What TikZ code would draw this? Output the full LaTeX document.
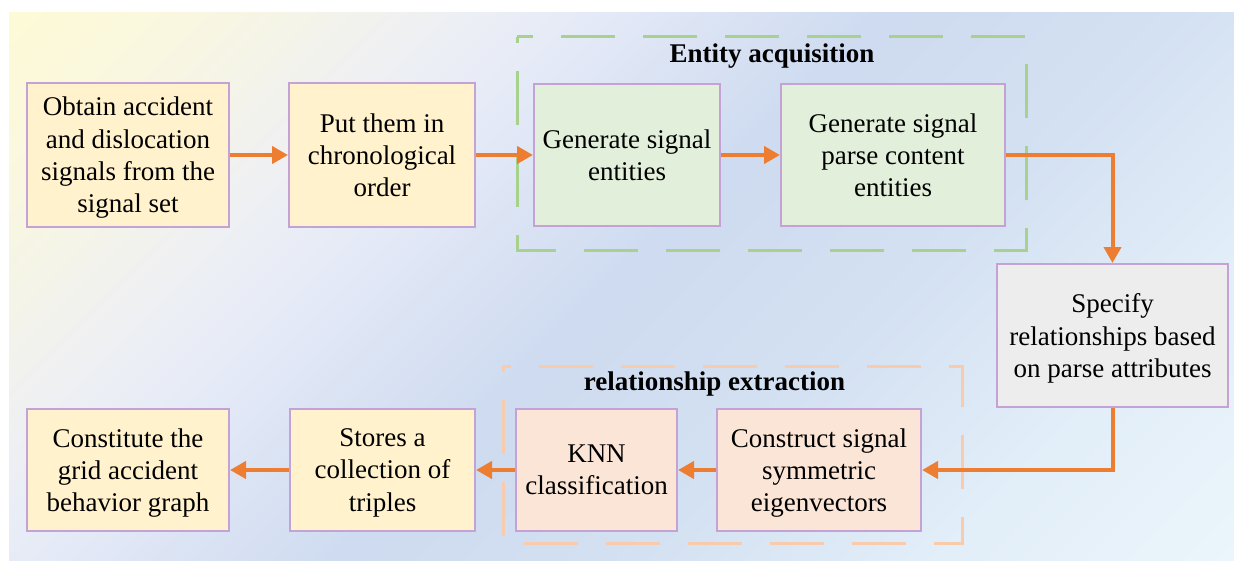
\documentclass[tikz,border=0pt]{standalone}
\usepackage{fontspec}
\setmainfont{Liberation Serif}
\usetikzlibrary{arrows.meta}
\definecolor{arr}{RGB}{237,125,49}
\definecolor{bdr}{RGB}{196,162,214}
\definecolor{yel}{RGB}{255,242,204}
\definecolor{grn}{RGB}{226,239,218}
\definecolor{pch}{RGB}{251,229,214}
\definecolor{gry}{RGB}{237,237,237}
\definecolor{gdash}{RGB}{169,209,142}
\definecolor{odash}{RGB}{248,203,173}
\definecolor{bgA}{RGB}{253,250,214}
\definecolor{bgB}{RGB}{249,247,224}
\definecolor{bgC}{RGB}{238,240,243}
\definecolor{bgD}{RGB}{229,234,247}
\definecolor{bgE}{RGB}{206,219,240}
\definecolor{bgF}{RGB}{212,225,242}
\definecolor{bgG}{RGB}{226,238,248}
\definecolor{bgH}{RGB}{235,245,251}
\pgfdeclarehorizontalshading{bgshade}{100bp}{color(0bp)=(bgA); color(24.4bp)=(bgA); color(29.6bp)=(bgB); color(36.8bp)=(bgC); color(41.1bp)=(bgD); color(49.8bp)=(bgE); color(58.4bp)=(bgF); color(67.1bp)=(bgG); color(75.6bp)=(bgH); color(100bp)=(bgH)}
\begin{document}
\begin{tikzpicture}[x=0.75pt,y=-0.75pt,
  box/.style={draw=bdr,line width=1.5pt,align=center,inner sep=0pt,text depth=0pt,
    font=\fontsize{20.25}{24.2}\selectfont},
  title/.style={font=\fontsize{20.25}{24.2}\selectfont\bfseries,anchor=base},
  arrow/.style={draw=arr,line width=3pt,-{Triangle[length=12pt,width=12.75pt]}},
  frame/.style={line width=2.25pt,dash pattern=on 40.5pt off 21pt}]
\useasboundingbox (0,0) rectangle (1234,560);
% background: 45-degree gradient, top-left to bottom-right
\begin{scope}
  \clip (9,13) rectangle (1234,560);
  \shade[shading=bgshade,shading angle=-45]
    (621.5-612.5,286.5-612.5) rectangle (621.5+612.5,286.5+612.5);
\end{scope}
% frames
\draw[frame,gdash,dash phase=36pt] (517,37) rectangle (1026,250);
\draw[frame,odash,dash phase=36pt] (503,366) rectangle (962,543);
\node[title] (t1) at (772,63) {Entity acquisition};
\node[title] (t2) at (714.5,390) {relationship extraction};
% boxes
\node[box,fill=yel,minimum width=202*0.75pt,minimum height=144*0.75pt] (b1) at (128,155)
  {Obtain accident\\and dislocation\\signals from the\\signal set};
\node[box,fill=yel,minimum width=186*0.75pt,minimum height=144*0.75pt] (b2) at (382,155)
  {Put them in\\chronological\\order};
\node[box,fill=grn,minimum width=186*0.75pt,minimum height=142*0.75pt] (b3) at (627,155)
  {Generate signal\\entities};
\node[box,fill=grn,minimum width=224*0.75pt,minimum height=142*0.75pt] (b4) at (893,155)
  {Generate signal\\parse content\\entities};
\node[box,fill=gry,minimum width=231*0.75pt,minimum height=143*0.75pt] (b5) at (1112.5,335.5)
  {Specify\\relationships based\\on parse attributes};
\node[box,fill=pch,minimum width=204*0.75pt,minimum height=122*0.75pt] (b6) at (819,470)
  {Construct signal\\symmetric\\eigenvectors};
\node[box,fill=pch,minimum width=161*0.75pt,minimum height=122*0.75pt] (b7) at (596.5,470)
  {KNN\\classification};
\node[box,fill=yel,minimum width=185*0.75pt,minimum height=122*0.75pt] (b8) at (382.5,470)
  {Stores a\\collection of\\triples};
\node[box,fill=yel,minimum width=202*0.75pt,minimum height=122*0.75pt] (b9) at (128,470)
  {Constitute the\\grid accident\\behavior graph};
% arrows
\draw[arrow] (b1) -- (b2);
\draw[arrow] (b2) -- (b3);
\draw[arrow] (b3) -- (b4);
\draw[arrow] (b4.east) -| (b5.north);
\draw[arrow] (b5.south) |- (b6.east);
\draw[arrow] (b6) -- (b7);
\draw[arrow] (b7) -- (b8);
\draw[arrow] (b8) -- (b9);
\end{tikzpicture}
\end{document}
